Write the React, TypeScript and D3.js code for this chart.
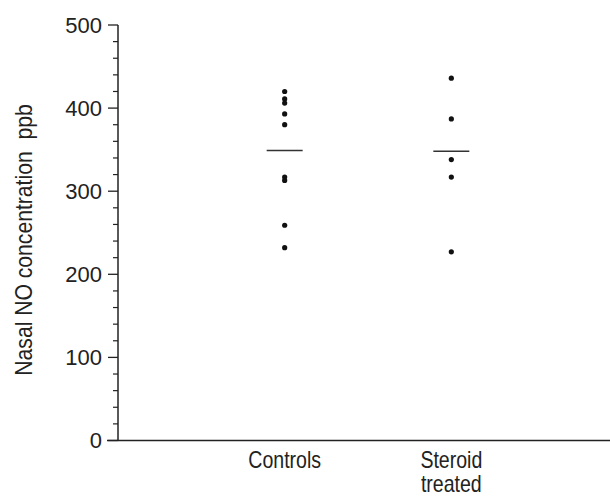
import React, { useRef, useEffect } from "react";
import * as d3 from "d3";

// groups on the x axis
const groups = ["Controls", "Steroid treated"];
// individual nasal NO values (ppb) per group
const controlValues = [420, 411, 406, 393, 380, 317, 313, 259, 232];
const steroidValues = [436, 387, 338, 317, 227];
// group means drawn as short horizontal bars
const groupMeans = [349, 348];
const yTicks = [0, 100, 200, 300, 400, 500];

const App = () => {
  const ref = useRef<SVGSVGElement>(null);

  useEffect(() => {
    const svg = d3.select(ref.current);
    svg.selectAll("*").remove();
    const ink = "#222";
    const font = "'Liberation Sans', Arial, sans-serif";

    const y = d3.scaleLinear().domain([0, 500]).range([440.5, 25]);
    const x = d3.scalePoint<string>().domain(groups).range([118, 618]).padding(1);

    // y axis with minor ticks every 20
    const yAxis = svg.append("g").attr("transform", "translate(118,0)");
    yAxis
      .append("line")
      .attr("y1", y(0))
      .attr("y2", y(500))
      .attr("stroke", ink)
      .attr("stroke-width", 1.5);
    const minor = d3.range(0, 501, 20).filter((v) => v % 100 !== 0);
    yAxis
      .selectAll("line.minor")
      .data(minor)
      .enter()
      .append("line")
      .attr("x1", -5)
      .attr("x2", 0)
      .attr("y1", (d) => y(d))
      .attr("y2", (d) => y(d))
      .attr("stroke", ink)
      .attr("stroke-width", 1.2);
    yAxis
      .selectAll("line.major")
      .data(yTicks)
      .enter()
      .append("line")
      .attr("x1", -10)
      .attr("x2", 0)
      .attr("y1", (d) => y(d))
      .attr("y2", (d) => y(d))
      .attr("stroke", ink)
      .attr("stroke-width", 1.3);
    yAxis
      .selectAll("text")
      .data(yTicks)
      .enter()
      .append("text")
      .attr("x", -16)
      .attr("y", (d) => y(d))
      .attr("dy", "0.36em")
      .attr("text-anchor", "end")
      .style("font-family", font)
      .style("font-size", "22px")
      .style("fill", ink)
      .text((d) => d);

    // x axis baseline running to the right edge
    svg
      .append("line")
      .attr("x1", 107)
      .attr("x2", 610)
      .attr("y1", y(0))
      .attr("y2", y(0))
      .attr("stroke", ink)
      .attr("stroke-width", 1.5);

    // category labels
    groups.forEach((g) => {
      const words = g.split(" ");
      const t = svg
        .append("text")
        .attr("transform", `translate(${x(g)},468) scale(0.85,1)`)
        .attr("text-anchor", "middle")
        .style("font-family", font)
        .style("font-size", "23px")
        .style("fill", ink);
      words.forEach((w, i) => {
        t.append("tspan").attr("x", 0).attr("dy", i === 0 ? 0 : 24).text(w);
      });
    });

    // y axis title
    svg
      .append("text")
      .attr("transform", `translate(32,240) rotate(-90) scale(0.9,1)`)
      .attr("text-anchor", "middle")
      .style("font-family", font)
      .style("font-size", "23.5px")
      .style("fill", ink)
      .style("white-space", "pre")
      .text("Nasal NO concentration  ppb");

    const series = [controlValues, steroidValues];
    series.forEach((vals, i) => {
      const cx = x(groups[i]) as number;
      svg
        .append("g")
        .selectAll("circle")
        .data(vals)
        .enter()
        .append("circle")
        .attr("cx", cx)
        .attr("cy", (d) => y(d))
        .attr("r", 2.6)
        .attr("fill", "#111");
      svg
        .append("line")
        .attr("x1", cx - 18)
        .attr("x2", cx + 18)
        .attr("y1", y(groupMeans[i]))
        .attr("y2", y(groupMeans[i]))
        .attr("stroke", "#333")
        .attr("stroke-width", 1.5);
    });
  }, []);

  return (
    <svg
      ref={ref}
      width={610}
      height={496}
      style={{ position: "absolute", left: 0, top: 0, background: "#fff" }}
    />
  );
};

export default App;
